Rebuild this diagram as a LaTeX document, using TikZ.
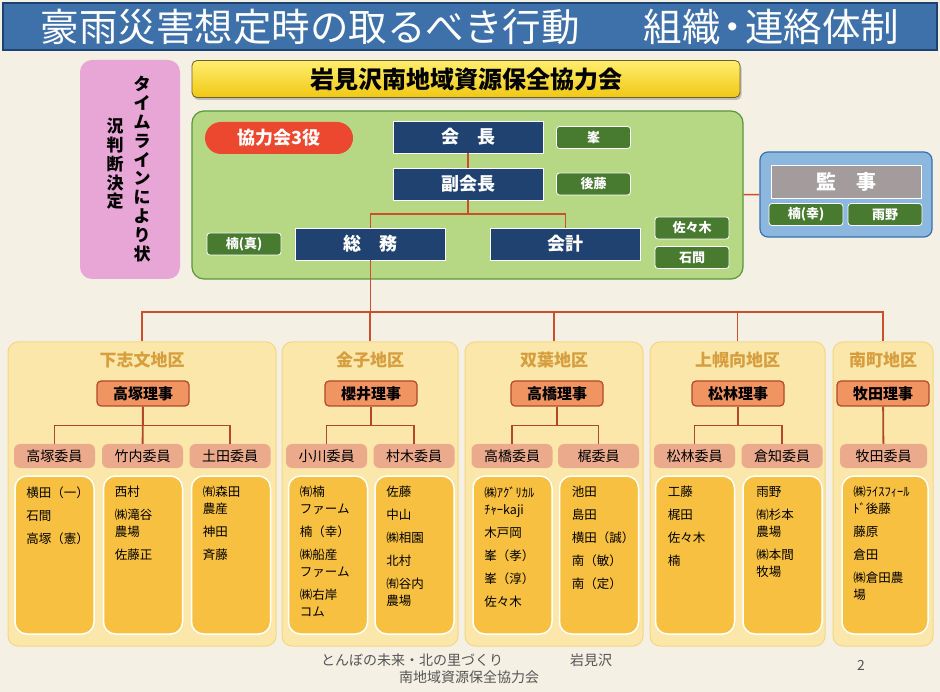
\documentclass[tikz,border=0pt]{standalone}
\usepackage{fontspec}
\setmainfont{Noto Sans CJK JP}
\usepackage{tikz}
\usetikzlibrary{positioning,shadows}
\definecolor{Paper}{RGB}{244,240,228}
\definecolor{TitleBlue}{RGB}{62,112,170}
\definecolor{TitleEdge}{RGB}{30,65,115}
\definecolor{Pink}{RGB}{231,166,214}
\definecolor{BannerTop}{RGB}{255,238,110}
\definecolor{BannerBottom}{RGB}{240,200,20}
\definecolor{BannerEdge}{RGB}{110,95,40}
\definecolor{LeafGreen}{RGB}{182,216,132}
\definecolor{LeafEdge}{RGB}{88,150,58}
\definecolor{Navy}{RGB}{32,66,112}
\definecolor{NameGreen}{RGB}{72,122,48}
\definecolor{PillRed}{RGB}{236,72,48}
\definecolor{SkyBlue}{RGB}{140,184,224}
\definecolor{SkyEdge}{RGB}{55,112,178}
\definecolor{AuditGray}{RGB}{163,155,156}
\definecolor{AreaFill}{RGB}{252,231,170}
\definecolor{AreaEdge}{RGB}{246,214,130}
\definecolor{AreaTitle}{RGB}{214,158,62}
\definecolor{RijiFill}{RGB}{240,148,98}
\definecolor{RijiEdge}{RGB}{178,72,42}
\definecolor{IinFill}{RGB}{236,170,140}
\definecolor{MemberFill}{RGB}{248,192,64}
\definecolor{LinkRed}{RGB}{205,78,45}
\definecolor{FootGray}{RGB}{85,85,85}
\tikzset{
  titlebar/.style={fill=TitleBlue,draw=TitleEdge,line width=1.2pt,minimum width=934pt,minimum height=47pt,text=white,font=\fontsize{38.5}{38.5}\selectfont},
  timeline/.style={fill=Pink,rounded corners=12pt,minimum width=100pt,minimum height=219pt},
  vtext/.style={align=center,inner sep=0pt,font=\bfseries\fontsize{17}{18.8}\selectfont},
  banner/.style={draw=BannerEdge,line width=0.8pt,rounded corners=5pt,top color=BannerTop,bottom color=BannerBottom,drop shadow={shadow xshift=1.5pt,shadow yshift=-2.5pt,fill=black!45},minimum width=548pt,minimum height=37pt,font=\bfseries\fontsize{24}{24}\selectfont},
  board/.style={draw=LeafEdge,line width=1.2pt,fill=LeafGreen,rounded corners=12pt,minimum width=551pt,minimum height=168pt},
  pill/.style={fill=PillRed,rounded corners=16pt,minimum width=148pt,minimum height=32pt,text=white,font=\bfseries\fontsize{18}{18}\selectfont},
  yaku/.style={fill=Navy,draw=white,line width=0.8pt,minimum width=150pt,minimum height=32pt,text=white,font=\bfseries\fontsize{18}{18}\selectfont},
  person/.style={fill=NameGreen,draw=white,line width=0.8pt,rounded corners=3pt,minimum width=74pt,minimum height=22pt,text=white,font=\bfseries\fontsize{13}{13}\selectfont},
  audit/.style={fill=SkyBlue,draw=SkyEdge,line width=1.2pt,rounded corners=8pt,minimum width=172pt,minimum height=85pt},
  audithead/.style={fill=AuditGray,draw=white,line width=0.8pt,minimum width=150pt,minimum height=33pt,text=white,font=\bfseries\fontsize{20}{20}\selectfont},
  area/.style={fill=AreaFill,draw=AreaEdge,line width=1pt,rounded corners=10pt,minimum height=304pt},
  areatitle/.style={text=AreaTitle,font=\bfseries\fontsize{17}{17}\selectfont},
  riji/.style={fill=RijiFill,draw=RijiEdge,line width=1.2pt,rounded corners=4pt,minimum width=92pt,minimum height=25pt,font=\bfseries\fontsize{15}{15}\selectfont},
  iin/.style={fill=IinFill,rounded corners=6pt,minimum width=81pt,minimum height=24pt,font=\fontsize{14}{14}\selectfont},
  members/.style={fill=MemberFill,draw=white,line width=1.5pt,rounded corners=12pt,minimum width=79pt,minimum height=158pt},
  memtext/.style={align=left,inner sep=0pt,font=\fontsize{12.5}{17}\selectfont},
  link/.style={draw=LinkRed,line width=1.5pt},
  arealink/.style={draw=RijiEdge,line width=1.8pt},
  foot/.style={text=FootGray,font=\fontsize{14}{14}\selectfont}
}
\begin{document}
\begin{tikzpicture}[x=1pt,y=-1pt]
\fill[Paper] (0,0) rectangle (940,692);
% title and left column
\node[titlebar] (title) at (470,26.5) {豪雨災害想定時の取るべき行動\hspace{64pt}組織\kern-7pt・\kern-7pt連絡体制};
\node[timeline] (tl) at (130,169.5) {};
\node[vtext] (tl1) at (142,169) {タ\\イ\\ム\\ラ\\イ\\ン\\に\\よ\\り\\状};
\node[vtext] (tl2) at (115,164) {況\\判\\断\\決\\定};

% council and officers
\node[banner] (kyogikai) at (466,79) {岩見沢南地域資源保全協力会};
\node[board] (board) at (467.5,195) {};
\node[pill] (sanyaku) at (279,138) {協力会3役};
\node[yaku] (kaicho) at (468,137) {会　長};
\node[yaku] (fuku) at (468,184) {副会長};
\node[yaku] (somu) at (370.5,244) {総　務};
\node[yaku] (kaikei) at (565.5,244) {会計};
\node[person] (mine) at (593.5,137.5) {峯};
\node[person] (goto) at (593.5,184) {後藤};
\node[person] (kusu) at (244,244) {楠(真)};
\node[person] (sasaki) at (692,228) {佐々木};
\node[person] (ishima) at (692,257.5) {石間};
\node[audit] (kansa) at (846,194.5) {};
\node[audithead] (kansahead) at (846,181.5) {監　事};
\node[person] (kusu2) at (806,214.5) {楠(幸)};
\node[person] (ameno) at (885,214.5) {雨野};

\coordinate (split) at (468,214);
\coordinate (bus) at (370.5,312);
\draw[link] (kaicho) -- (fuku);
\draw[link] (fuku) -- (split);\draw[link] (split) -| (somu);\draw[link] (split) -| (kaikei);
\draw[link] (board) -- (kansa);

% districts
\node[area,minimum width=268pt] (a1) at (142,494) {};
\node[area,minimum width=176pt] (a2) at (370,494) {};
\node[area,minimum width=178pt] (a3) at (554,494) {};
\node[area,minimum width=175pt] (a4) at (737.5,494) {};
\node[area,minimum width=100pt] (a5) at (883,494) {};
\draw[link] (somu) -- (bus);
\draw[link] (bus) -| (a1);\draw[link] (bus) -| (a2);\draw[link] (bus) -| (a3);\draw[link] (bus) -| (a4);\draw[link] (bus) -| (a5);

\node[areatitle] (a1t) at (142,360) {下志文地区};
\node[riji] (r1) at (143,393.5) {高塚理事};
\node[iin] (i11) at (54.5,456) {高塚委員};
\node[iin] (i12) at (142.5,456) {竹内委員};
\node[iin] (i13) at (230,456) {土田委員};
\node[members] (m11) at (54.5,555) {};
\node[members] (m12) at (143,555) {};
\node[members] (m13) at (231,555) {};
\node[memtext,below right=11pt and 12pt of m11.north west] (n11) {横田（一）\\[6pt]石間\\[6pt]高塚（憲）};
\node[memtext,below right=11pt and 12pt of m12.north west] (n12) {西村\\[6pt]㈱滝谷\\農場\\[6pt]佐藤正};
\node[memtext,below right=11pt and 12pt of m13.north west] (n13) {㈲森田\\農産\\[6pt]神田\\[6pt]斉藤};
\draw[arealink] (r1.south) -- ++(0,19) -| (i11);
\draw[arealink] (r1.south) ++(0,19) -| (i13);
\draw[arealink] (r1) -- (i12);

\node[areatitle] (a2t) at (370,360) {金子地区};
\node[riji] (r2) at (371,393.5) {櫻井理事};
\node[iin] (i21) at (326.5,456) {小川委員};
\node[iin] (i22) at (414,456) {村木委員};
\node[members] (m21) at (328,555) {};
\node[members] (m22) at (414.5,555) {};
\node[memtext,below right=11pt and 12pt of m21.north west] (n21) {㈲楠\\ファーム\\[6pt]楠（幸）\\[6pt]㈱船産\\ファーム\\[6pt]㈱右岸\\コム};
\node[memtext,below right=11pt and 12pt of m22.north west] (n22) {佐藤\\[6pt]中山\\[6pt]㈱相園\\[6pt]北村\\[6pt]㈲谷内\\農場};
\draw[arealink] (r2.south) -- ++(0,19) -| (i21);
\draw[arealink] (r2.south) ++(0,19) -| (i22);

\node[areatitle] (a3t) at (554,360) {双葉地区};
\node[riji] (r3) at (557,393.5) {高橋理事};
\node[iin] (i31) at (512,456) {高橋委員};
\node[iin] (i32) at (598.5,456) {梶委員};
\node[members] (m31) at (512.5,555) {};
\node[members] (m32) at (599,555) {};
\node[memtext,below right=11pt and 12pt of m31.north west] (n31) {㈱ｱｸﾞﾘｶﾙ\\ﾁｬｰkaji\\[6pt]木戸岡\\[6pt]峯（孝）\\[6pt]峯（淳）\\[6pt]佐々木};
\node[memtext,below right=11pt and 13pt of m32.north west] (n32) {池田\\[6pt]島田\\[6pt]横田（誠）\\[6pt]南（敏）\\[6pt]南（定）};
\draw[arealink] (r3.south) -- ++(0,19) -| (i31);
\draw[arealink] (r3.south) ++(0,19) -| (i32);

\node[areatitle] (a4t) at (737.5,360) {上幌向地区};
\node[riji] (r4) at (738,393.5) {松林理事};
\node[iin] (i41) at (694.5,456) {松林委員};
\node[iin] (i42) at (782,456) {倉知委員};
\node[members] (m41) at (695,555) {};
\node[members] (m42) at (782.5,555) {};
\node[memtext,below right=11pt and 13pt of m41.north west] (n41) {工藤\\[6pt]梶田\\[6pt]佐々木\\[6pt]楠};
\node[memtext,below right=11pt and 14pt of m42.north west] (n42) {雨野\\[6pt]㈲杉本\\農場\\[6pt]㈱本間\\牧場};
\draw[arealink] (r4.south) -- ++(0,19) -| (i41);
\draw[arealink] (r4.south) ++(0,19) -| (i42);

\node[areatitle] (a5t) at (883,360) {南町地区};
\node[riji] (r5) at (883,393.5) {牧田理事};
\node[iin,minimum width=87pt] (i51) at (883.5,456) {牧田委員};
\node[members,minimum width=86pt] (m51) at (885,555) {};
\node[memtext,below right=11pt and 12pt of m51.north west] (n51) {㈱ﾗｲｽﾌｨｰﾙ\\ﾄﾞ後藤\\[6pt]藤原\\[6pt]倉田\\[6pt]㈱倉田農\\場};
\draw[arealink] (r5) -- (i51);

% footer
\node[foot] (f1) at (412,660) {とんぼの未来・北の里づくり};
\node[foot] (f2) at (591,660) {岩見沢};
\node[foot] (f3) at (469,677) {南地域資源保全協力会};
\node[foot] (pg) at (861,665) {2};
\end{tikzpicture}
\end{document}
